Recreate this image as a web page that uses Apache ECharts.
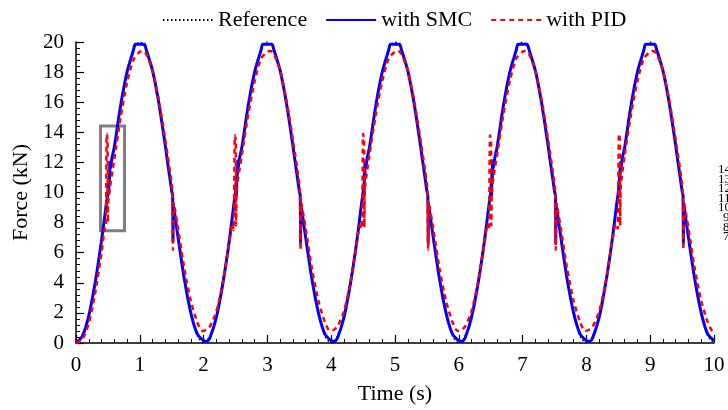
<!DOCTYPE html>
<html><head><meta charset="utf-8">
<script src="https://cdn.jsdelivr.net/npm/echarts@6/dist/echarts.min.js"></script>
<style>html,body{margin:0;padding:0;background:#fff}#c{width:728px;height:410px}</style>
</head><body><div id="c"></div>
<script>
const seriesNames = ['Reference', 'with SMC', 'with PID'];
const xTickRange = [0, 10, 1];
const yTickRange = [0, 20, 2];
const insetLabels = ['14', '13', '12', '11', '10', '9', '8', '7'];
const zoomBox = [[0.384, 14.42], [0.76, 7.46]];

const refTime = [0,0.1,0.2,0.3,0.4,0.5,0.6,0.7,0.8,0.9,1,1.1,1.2,1.3,1.4,1.5,1.6,1.7,1.8,1.9,
 2,2.1,2.2,2.3,2.4,2.5,2.6,2.7,2.8,2.9,3,3.1,3.2,3.3,3.4,3.5,3.6,3.7,3.8,3.9,
 4,4.1,4.2,4.3,4.4,4.5,4.6,4.7,4.8,4.9,5,5.1,5.2,5.3,5.4,5.5,5.6,5.7,5.8,5.9,
 6,6.1,6.2,6.3,6.4,6.5,6.6,6.7,6.8,6.9,7,7.1,7.2,7.3,7.4,7.5,7.6,7.7,7.8,7.9,
 8,8.1,8.2,8.3,8.4,8.5,8.6,8.7,8.8,8.9,9,9.1,9.2,9.3,9.4,9.5,9.6,9.7,9.8,9.9,10];
const refForce = [0,0.49,1.91,4.12,6.91,10,13.09,15.88,18.09,19.51,20,19.51,18.09,15.88,13.09,10,6.91,4.12,1.91,0.49,
 0,0.49,1.91,4.12,6.91,10,13.09,15.88,18.09,19.51,20,19.51,18.09,15.88,13.09,10,6.91,4.12,1.91,0.49,
 0,0.49,1.91,4.12,6.91,10,13.09,15.88,18.09,19.51,20,19.51,18.09,15.88,13.09,10,6.91,4.12,1.91,0.49,
 0,0.49,1.91,4.12,6.91,10,13.09,15.88,18.09,19.51,20,19.51,18.09,15.88,13.09,10,6.91,4.12,1.91,0.49,
 0,0.49,1.91,4.12,6.91,10,13.09,15.88,18.09,19.51,20,19.51,18.09,15.88,13.09,10,6.91,4.12,1.91,0.49,0];

const smcData = [
 [0,0],[0.1,0.45],[0.2,1.8],[0.3,4.0],[0.4,6.8],[0.48,9.4],[0.5,10.0],[0.51,10.6],[0.515,9.9],[0.52,11.4],[0.525,10.8],[0.53,12.0],[0.54,11.6],[0.56,12.2],[0.6,13.0],[0.7,15.8],[0.8,18.0],[0.9,19.45],[0.93,19.85],[1.07,19.85],[1.1,19.5],[1.2,18.1],[1.3,15.9],[1.4,13.1],[1.5,10.1],[1.515,9.8],[1.52,6.7],[1.525,9.3],[1.53,8.6],[1.535,9.0],[1.55,8.5],[1.6,7.0],[1.7,4.2],[1.8,2.0],[1.9,0.6],[2.0,0.15],[2.05,0.1],
 [2.1,0.35],[2.2,1.7],[2.3,3.9],[2.4,6.7],[2.48,9.4],[2.5,10.0],[2.51,10.7],[2.515,9.8],[2.52,11.5],[2.525,10.9],[2.53,12.1],[2.54,11.6],[2.56,12.2],[2.6,13.0],[2.7,15.8],[2.8,18.0],[2.9,19.45],[2.93,19.85],[3.07,19.85],[3.1,19.5],[3.2,18.1],[3.3,15.9],[3.4,13.1],[3.5,10.1],[3.515,9.8],[3.52,6.6],[3.525,9.3],[3.53,8.6],[3.535,9.0],[3.55,8.5],[3.6,7.0],[3.7,4.2],[3.8,2.0],[3.9,0.6],[4.0,0.15],[4.05,0.1],
 [4.1,0.35],[4.2,1.7],[4.3,3.9],[4.4,6.7],[4.48,9.4],[4.5,10.0],[4.51,10.6],[4.515,9.9],[4.52,11.4],[4.525,10.8],[4.53,12.0],[4.54,11.6],[4.56,12.2],[4.6,13.0],[4.7,15.8],[4.8,18.0],[4.9,19.45],[4.93,19.85],[5.07,19.85],[5.1,19.5],[5.2,18.1],[5.3,15.9],[5.4,13.1],[5.5,10.1],[5.515,9.8],[5.52,6.6],[5.525,9.3],[5.53,8.6],[5.535,9.0],[5.55,8.5],[5.6,7.0],[5.7,4.2],[5.8,2.0],[5.9,0.6],[6.0,0.15],[6.05,0.1],
 [6.1,0.35],[6.2,1.7],[6.3,3.9],[6.4,6.7],[6.48,9.4],[6.5,10.0],[6.51,10.7],[6.515,9.8],[6.52,11.5],[6.525,10.9],[6.53,12.1],[6.54,11.6],[6.56,12.2],[6.6,13.0],[6.7,15.8],[6.8,18.0],[6.9,19.45],[6.93,19.85],[7.07,19.85],[7.1,19.5],[7.2,18.1],[7.3,15.9],[7.4,13.1],[7.5,10.1],[7.515,9.8],[7.52,6.6],[7.525,9.3],[7.53,8.6],[7.535,9.0],[7.55,8.5],[7.6,7.0],[7.7,4.2],[7.8,2.0],[7.9,0.6],[8.0,0.15],[8.05,0.1],
 [8.1,0.35],[8.2,1.7],[8.3,3.9],[8.4,6.7],[8.48,9.4],[8.5,10.0],[8.51,10.6],[8.515,9.9],[8.52,11.4],[8.525,10.8],[8.53,12.0],[8.54,11.6],[8.56,12.2],[8.6,13.0],[8.7,15.8],[8.8,18.0],[8.9,19.45],[8.93,19.85],[9.07,19.85],[9.1,19.5],[9.2,18.1],[9.3,15.9],[9.4,13.1],[9.5,10.1],[9.515,9.8],[9.52,6.6],[9.525,9.3],[9.53,8.6],[9.535,9.0],[9.55,8.5],[9.6,7.0],[9.7,4.2],[9.8,2.0],[9.9,0.6],[10.0,0.15]
];

const pidData = [
 [0,0],[0.1,0.25],[0.2,1.3],[0.3,3.3],[0.4,6.0],[0.45,7.6],[0.47,7.7],[0.48,13.9],[0.495,13.5],[0.5,8.0],[0.51,9.6],[0.6,12.2],[0.7,15.0],[0.8,17.3],[0.9,18.8],[1.0,19.35],[1.05,19.4],[1.1,19.2],[1.2,18.1],[1.3,16.1],[1.4,13.5],[1.5,10.6],[1.51,10.1],[1.52,6.2],[1.53,9.3],[1.6,7.6],[1.7,4.9],[1.8,2.8],[1.9,1.4],[1.98,0.8],[2.05,0.9],
 [2.1,1.1],[2.2,2.1],[2.3,4.0],[2.4,6.6],[2.45,7.9],[2.47,7.5],[2.49,13.8],[2.505,13.4],[2.51,7.8],[2.52,10.2],[2.6,12.5],[2.7,15.2],[2.8,17.4],[2.9,18.9],[3.0,19.35],[3.05,19.4],[3.1,19.2],[3.2,18.1],[3.3,16.1],[3.4,13.5],[3.5,10.6],[3.51,10.1],[3.52,6.2],[3.53,9.3],[3.6,7.6],[3.7,4.9],[3.8,2.8],[3.9,1.4],[3.98,0.8],[4.05,0.9],
 [4.1,1.1],[4.2,2.1],[4.3,4.0],[4.4,6.6],[4.45,7.8],[4.48,7.6],[4.5,13.9],[4.515,13.5],[4.52,7.7],[4.53,10.3],[4.6,12.5],[4.7,15.2],[4.8,17.4],[4.9,18.9],[5.0,19.35],[5.05,19.4],[5.1,19.2],[5.2,18.1],[5.3,16.1],[5.4,13.5],[5.5,10.6],[5.51,10.1],[5.52,6.2],[5.53,9.3],[5.6,7.6],[5.7,4.9],[5.8,2.8],[5.9,1.4],[5.98,0.8],[6.05,0.9],
 [6.1,1.1],[6.2,2.1],[6.3,4.0],[6.4,6.6],[6.45,7.9],[6.47,7.5],[6.49,13.8],[6.505,13.4],[6.51,7.8],[6.52,10.2],[6.6,12.5],[6.7,15.2],[6.8,17.4],[6.9,18.9],[7.0,19.35],[7.05,19.4],[7.1,19.2],[7.2,18.1],[7.3,16.1],[7.4,13.5],[7.5,10.6],[7.51,10.1],[7.52,6.2],[7.53,9.3],[7.6,7.6],[7.7,4.9],[7.8,2.8],[7.9,1.4],[7.98,0.8],[8.05,0.9],
 [8.1,1.1],[8.2,2.1],[8.3,4.0],[8.4,6.6],[8.46,7.9],[8.49,7.6],[8.51,13.9],[8.525,13.5],[8.53,7.8],[8.54,10.4],[8.6,12.5],[8.7,15.2],[8.8,17.4],[8.9,18.9],[9.0,19.35],[9.05,19.4],[9.1,19.2],[9.2,18.1],[9.3,16.1],[9.4,13.5],[9.5,10.6],[9.51,10.1],[9.52,6.2],[9.53,9.3],[9.6,7.6],[9.7,4.9],[9.8,2.8],[9.9,1.4],[9.98,0.8],[10.0,0.8]
];

const refData = refTime.map((t, i) => [t, refForce[i]]);
const FONT = 'Liberation Serif';

const chart = echarts.init(document.getElementById('c'), null, {renderer: 'canvas'});
chart.setOption({
  animation: false,
  backgroundColor: '#fff',
  textStyle: {fontFamily: FONT},
  legend: {
    top: 4, left: 157,
    itemWidth: 50, itemHeight: 14, itemGap: 18,
    itemStyle: {opacity: 0},
    textStyle: {fontFamily: FONT, fontSize: 22, color: '#000'},
    data: seriesNames
  },
  grid: {left: 76, right: 14, top: 42, bottom: 65, containLabel: false},
  xAxis: {
    type: 'value', min: xTickRange[0], max: xTickRange[1], interval: xTickRange[2],
    name: 'Time (s)', nameLocation: 'middle', nameGap: 40,
    nameTextStyle: {fontFamily: FONT, fontSize: 22, color: '#000'},
    axisLine: {lineStyle: {color: '#000', width: 1.5}},
    axisTick: {inside: true, length: 8, lineStyle: {color: '#000', width: 1.2}},
    minorTick: {show: true, splitNumber: 5, length: 4, lineStyle: {color: '#000', width: 1}},
    axisLabel: {fontFamily: FONT, fontSize: 21, color: '#000', margin: 12},
    splitLine: {show: false}
  },
  yAxis: {
    type: 'value', min: yTickRange[0], max: yTickRange[1], interval: yTickRange[2],
    name: 'Force (kN)', nameLocation: 'middle', nameGap: 40,
    nameTextStyle: {fontFamily: FONT, fontSize: 22, color: '#000'},
    axisLine: {show: true, lineStyle: {color: '#000', width: 1.5}},
    axisTick: {show: true, inside: true, length: 8, lineStyle: {color: '#000', width: 1.2}},
    minorTick: {show: true, splitNumber: 5, length: 4, lineStyle: {color: '#000', width: 1}},
    axisLabel: {fontFamily: FONT, fontSize: 21, color: '#000', margin: 12},
    splitLine: {show: false}
  },
  series: [
    {
      name: seriesNames[0], type: 'line', data: refData, symbol: 'none', smooth: 0.3,
      lineStyle: {color: '#000', width: 1.5, type: [1.5, 2.5]}, itemStyle: {color: '#000'}, z: 2
    },
    {
      name: seriesNames[1], type: 'line', data: smcData, symbol: 'none', smooth: 0.25,
      lineStyle: {color: '#0000ff', width: 3}, itemStyle: {color: '#0000ff'}, z: 3
    },
    {
      name: seriesNames[2], type: 'line', data: pidData, symbol: 'none', smooth: 0.25,
      lineStyle: {color: '#ff0000', width: 2.5, type: [5, 4]}, itemStyle: {color: '#ff0000'}, z: 4,
      markArea: {
        silent: true,
        itemStyle: {color: 'rgba(0,0,0,0)', borderColor: '#808080', borderWidth: 3},
        data: [[{coord: zoomBox[0]}, {coord: zoomBox[1]}]]
      }
    }
  ],
  graphic: insetLabels.map((s, i) => ({
    type: 'text', left: s.length > 1 ? 718 : 723, top: 163 + i * 9.6,
    style: {text: s, font: '13px "Liberation Serif"', fill: '#000'}
  }))
});
</script></body></html>
